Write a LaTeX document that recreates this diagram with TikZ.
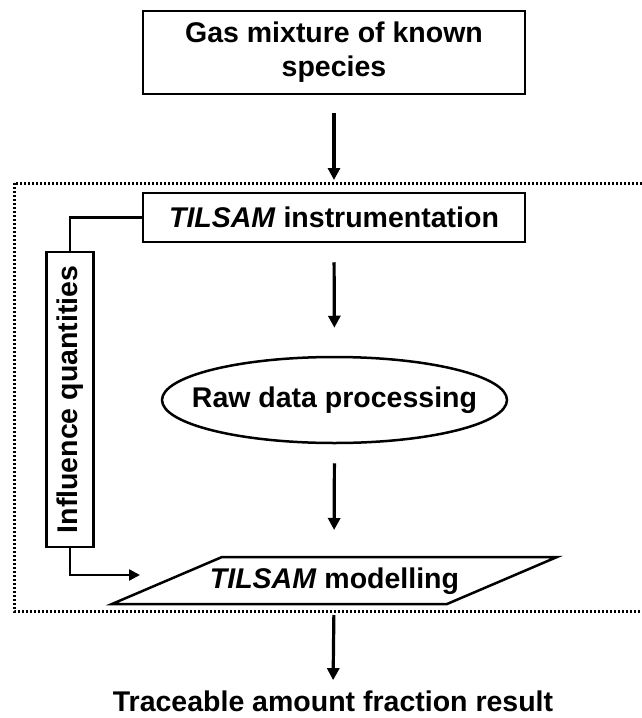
\documentclass[tikz,border=0pt]{standalone}
\usepackage{fontspec}
\setmainfont{Liberation Sans}
\usetikzlibrary{arrows.meta,shapes.geometric}

\tikzset{
  boxstyle/.style={draw, line width=2.5pt, inner sep=0pt, align=center},
  flowarrow/.style={line width=3.2pt, -{Triangle[width=12pt,length=12pt]}},
  feedline/.style={line width=2.4pt},
  framestyle/.style={line width=3pt, dash pattern=on 2.2pt off 1.8pt},
  lbl/.style={font=\fontsize{28.5}{34}\selectfont\bfseries},
}

\begin{document}
\begin{tikzpicture}[x=1pt, y=-1pt]
  \useasboundingbox (0,0) rectangle (641,718);

  % source mixture
  \node[boxstyle, lbl, minimum width=382pt, minimum height=83pt] (gas) at (334,52.5)
    {Gas mixture of known\\species};

  % dotted system boundary
  \draw[framestyle] (14,183) rectangle (650,611);
  \coordinate (fin) at (334,183);

  % instrumentation
  \node[boxstyle, lbl, minimum width=382pt, minimum height=49pt] (inst) at (334,217.5)
    {\textit{TILSAM} instrumentation};

  % raw data processing (label in a zero-width box so the ellipse keeps its set size)
  \node[ellipse, draw, line width=2.5pt, inner sep=0pt, lbl,
        minimum width=345pt, minimum height=86pt] (proc) at (334.5,400)
    {\makebox[0pt]{Raw data processing}};

  % modelling step
  \coordinate (mtl) at (222,557);
  \coordinate (mtr) at (557,557);
  \coordinate (mbr) at (447,604);
  \coordinate (mbl) at (112,604);
  \draw[line width=2.5pt, line join=miter] (mtl) -- (mtr) -- (mbr) -- (mbl) -- cycle;
  \node[lbl, inner sep=0pt] (model) at (334.5,581) {\textit{TILSAM} modelling};
  \coordinate (mtop) at (334,557);
  \coordinate (mbot) at (334,604);

  % influence quantities
  \node[boxstyle, lbl, rotate=90, minimum width=295pt, minimum height=47pt] (infl) at (70,399.5)
    {Influence quantities};
  \coordinate (infarr) at (140,575);

  % result
  \node[lbl, inner sep=0pt, anchor=base] (res) at (333,711) {Traceable amount fraction result};

  % connectors
  \draw[flowarrow, shorten <=18pt, shorten >=3pt] (gas.south) -- (fin);
  \draw[flowarrow, shorten <=19pt, shorten >=28pt] (inst.south) -- (proc.north);
  \draw[flowarrow, shorten <=19pt, shorten >=27pt] (proc.south) -- (mtop);
  \draw[flowarrow, shorten <=11pt, shorten >=10pt] (mbot) -- (res.north);
  \draw[feedline] (inst.west) -| (infl.east);
  \draw[feedline, -{Triangle[width=11pt,length=11pt]}] (infl.west) |- (infarr);
\end{tikzpicture}
\end{document}
